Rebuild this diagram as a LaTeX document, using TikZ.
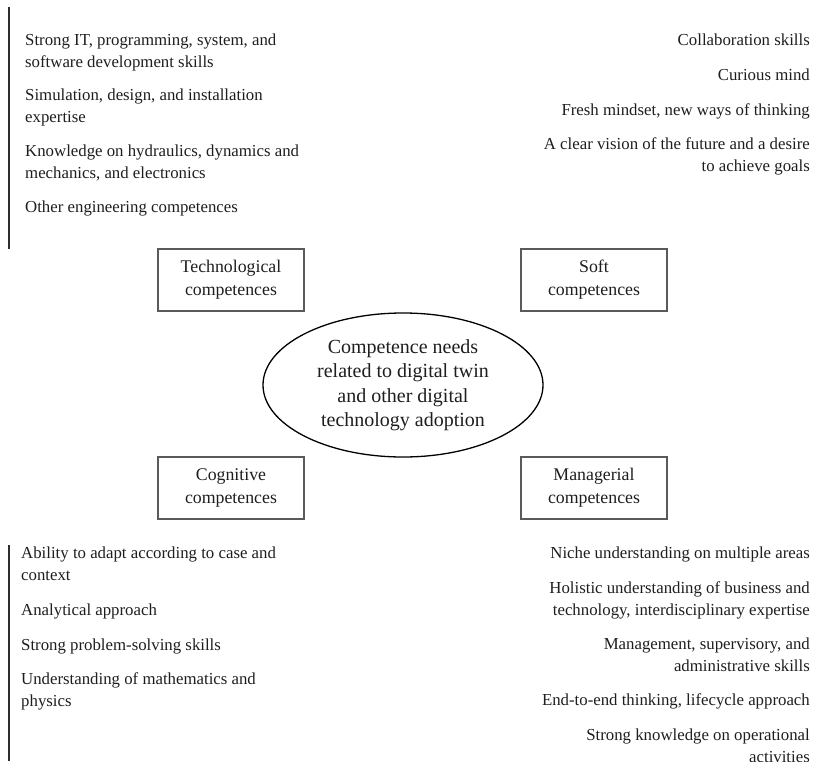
\documentclass[tikz,border=0pt]{standalone}
\usepackage{fontspec}
\setmainfont{Liberation Serif}
\usetikzlibrary{shapes.geometric}

\definecolor{ink}{HTML}{1E1E1E}
\definecolor{framegray}{HTML}{5A5A5A}
\definecolor{bargray}{HTML}{2E2E2E}

\tikzset{
  itemtext/.style={inner sep=0pt, text=ink, font=\fontsize{16.8}{22}\selectfont},
  itemleft/.style={itemtext, anchor=base west},
  itemright/.style={itemtext, anchor=base east},
  groupbox/.style={draw=framegray, line width=1.1pt, minimum width=146pt,
    minimum height=62pt, inner sep=0pt, align=center, text=ink,
    font=\fontsize{17.8}{23}\selectfont},
  hub/.style={ellipse, draw=black, line width=1.3pt, minimum width=280pt,
    minimum height=144pt, inner sep=0pt, align=center, text=ink,
    font=\fontsize{20}{24.5}\selectfont},
  sidebar/.style={draw=bargray, line width=2pt}
}

\begin{document}
\begin{tikzpicture}[x=1pt,y=-1pt]
  \useasboundingbox (0,0) rectangle (817,761);
  \clip (0,0) rectangle (817,761);

  % central ellipse
  \node[hub] (core) at (403,385)
    {Competence needs\\related to digital twin\\and other digital\\technology adoption};

  % the four competence groups
  \node[groupbox] (tech) at (231,280) {Technological\\competences};
  \node[groupbox] (soft) at (594,280) {Soft\\competences};
  \node[groupbox] (cogn) at (231,488) {Cognitive\\competences};
  \node[groupbox] (mgmt) at (594,488) {Managerial\\competences};

  % side bars of the left lists
  \coordinate (barA1) at (9,7);
  \coordinate (barA2) at (9,249);
  \coordinate (barB1) at (9,545);
  \coordinate (barB2) at (9,761);
  \draw[sidebar] (barA1) -- (barA2);
  \draw[sidebar] (barB1) -- (barB2);

  % technological competences list
  \foreach \y/\t [count=\i] in {
      45/{Strong IT, programming, system, and},
      67/{software development skills},
      100/{Simulation, design, and installation},
      122/{expertise},
      156/{Knowledge on hydraulics, dynamics and},
      178/{mechanics, and electronics},
      212/{Other engineering competences}}
    \node[itemleft] (techitem-\i) at (25,\y) {\t};

  % soft competences list
  \foreach \y/\t [count=\i] in {
      45/{Collaboration skills},
      80/{Curious mind},
      115/{Fresh mindset, new ways of thinking},
      149/{A clear vision of the future and a desire},
      171/{to achieve goals}}
    \node[itemright] (softitem-\i) at (810,\y) {\t};

  % cognitive competences list
  \foreach \y/\t [count=\i] in {
      558/{Ability to adapt according to case and},
      580/{context},
      615/{Analytical approach},
      650/{Strong problem-solving skills},
      684/{Understanding of mathematics and},
      706/{physics}}
    \node[itemleft] (cognitem-\i) at (21,\y) {\t};

  % managerial competences list
  \foreach \y/\t [count=\i] in {
      558/{Niche understanding on multiple areas},
      593/{Holistic understanding of business and},
      615/{technology, interdisciplinary expertise},
      649/{Management, supervisory, and},
      671/{administrative skills},
      705/{End-to-end thinking, lifecycle approach},
      740/{Strong knowledge on operational},
      762/{activities}}
    \node[itemright] (mgmtitem-\i) at (810,\y) {\t};
\end{tikzpicture}
\end{document}
